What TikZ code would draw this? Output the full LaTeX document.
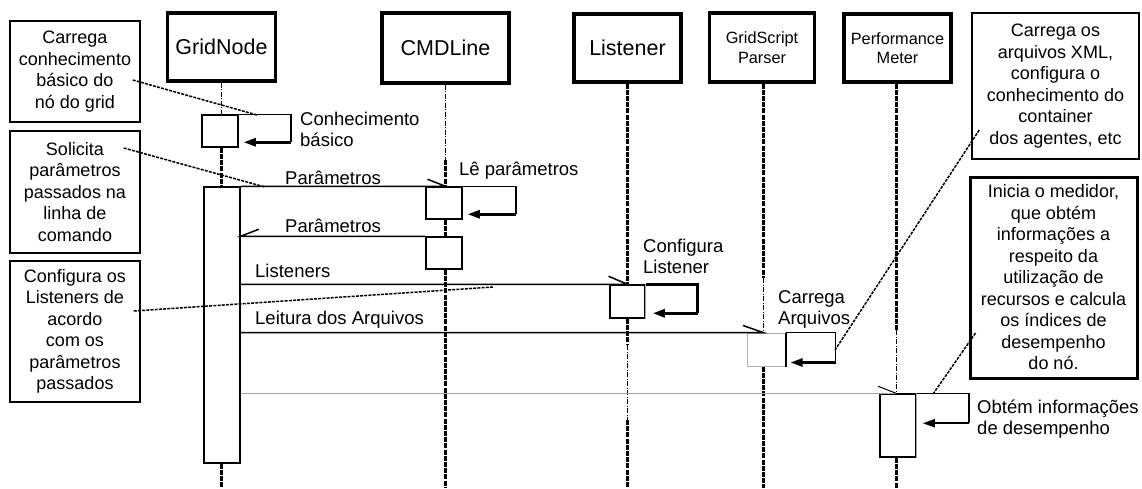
\documentclass[tikz,border=0pt]{standalone}
\usepackage{fontspec}
\setmainfont{Liberation Sans}
\usetikzlibrary{arrows.meta}
\begin{document}
\begin{tikzpicture}[x=1pt,y=-1pt,
 hdr/.style={draw, line width=3.2pt, minimum width=107pt, minimum height=68pt, inner sep=0pt, font=\fontsize{21.5}{24}\selectfont},
 hdrs/.style={hdr, font=\fontsize{16.3}{19.5}\selectfont, align=center},
 note/.style={draw, line width=1.5pt, minimum width=130pt, inner sep=0pt, align=center, font=\fontsize{18}{21.5}\selectfont},
 act/.style={draw, line width=1.5pt, fill=white, minimum width=36pt, inner sep=0pt},
 life/.style={line width=3pt, dash pattern=on 5pt off 1.2pt},
 lifethin/.style={line width=0.9pt, dash pattern=on 5pt off 1.5pt on 1pt off 1.5pt},
 msg/.style={line width=1.5pt},
 loopl/.style={line width=1.5pt},
 ret/.style={line width=2.5pt, -{Triangle[length=12pt,width=8pt]}},
 lbl/.style={inner sep=0pt, anchor=west, align=left, font=\fontsize{18.5}{21}\selectfont},
 conn/.style={line width=1.5pt, dash pattern=on 3pt off 1.2pt}
]
\useasboundingbox (0,0) rectangle (1142,488);

% headers
\node[hdr, minimum width=108pt] (gn) at (221.5,47) {GridNode};
\node[hdr, minimum width=127pt, minimum height=70pt] (cl) at (445.5,48) {CMDLine};
\node[hdr] (ls) at (627.5,48) {Listener};
\node[hdrs, minimum width=105pt, minimum height=69pt] (gs) at (762,47.5) {GridScript\\Parser};
\node[hdrs] (pm) at (897.5,48) {Performance\\Meter};

% activation boxes
\node[act, minimum height=32pt] (ga) at (220,131) {};
\node[act, minimum height=276pt] (gb) at (222,325) {};
\node[act, minimum height=32pt] (c1) at (444,203) {};
\node[act, minimum height=32pt] (c2) at (444,253) {};
\node[act, minimum width=35pt, minimum height=33pt] (l1) at (627.5,301.5) {};
\node[act, draw=black!30, line width=1pt, minimum width=38pt, minimum height=33pt] (p1) at (766,349.5) {};
\node[act, minimum height=63pt] (m1) at (898,425.5) {};
\draw[line width=1pt, black!35] (l1.north east) -- (l1.south east);
\draw[line width=1pt, black!35] (m1.north east) -- (m1.south east);
\draw[line width=2pt] (p1.north east) -- (p1.south east);

% lifelines
\draw[lifethin] (gn.south) -- (gn.south |- ga.north);
\draw[life] (gn.south |- ga.south) -- (gn.south |- gb.north);
\draw[life] (gn.south |- gb.south) -- (gn.south |- 0,488);
\draw[lifethin] (cl.south) -- (cl.south |- 0,160) coordinate (cla);
\draw[life] (cla) -- (cl.south |- c1.north);
\draw[life] (cl.south |- c1.south) -- (cl.south |- c2.north);
\draw[life] (cl.south |- c2.south) -- (cl.south |- 0,488);
\draw[life] (ls.south) -- (ls.south |- l1.north);
\draw[life] (ls.south |- l1.south) -- (ls.south |- 0,345) coordinate (lsa);
\draw[lifethin] (lsa) -- (ls.south |- 0,420) coordinate (lsb);
\draw[life] (lsb) -- (ls.south |- 0,488);
\draw[life] ([xshift=1pt]gs.south) -- ([xshift=1pt]gs.south |- 0,278) coordinate (gsa);
\draw[lifethin] (gsa) -- ([xshift=1pt]gs.south |- p1.north);
\draw[life] ([xshift=1pt]gs.south |- p1.south) -- ([xshift=1pt]gs.south |- 0,488);
\draw[life] ([xshift=-1.5pt]pm.south) -- ([xshift=-1.5pt]pm.south |- 0,330) coordinate (pma);
\draw[lifethin] (pma) -- ([xshift=-1.5pt]pm.south |- m1.north);
\draw[life] ([xshift=-1.5pt]pm.south |- m1.south) -- ([xshift=-1.5pt]pm.south |- 0,488);

% messages
\draw[msg] (gb.north east) -- (cl.south |- gb.north) -- ++(-18,-7);
\draw[msg] (c2.north west) -- (gb.east |- c2.north) -- ++(18,-7);
\draw[msg] (gb.east |- l1.north) -- (ls.south |- l1.north) -- ++(-19,-8);
\draw[msg] (gb.east |- p1.north) -- ([xshift=1pt]gs.south |- p1.north) -- ++(-20,-7);
\draw[line width=1pt, black!35] (gb.east |- m1.north) -- ([xshift=-1.5pt]pm.south |- m1.north);
\draw[line width=1pt] ([xshift=-1.5pt]pm.south |- m1.north) -- ++(-18,-7);

% self loops
\draw[loopl] (ga.north east) -- ++(52,0) -- ++(0,28) coordinate (r1);
\draw[ret] (r1) -- ([xshift=5pt]ga.east |- r1);
\draw[loopl] (c1.north east) -- ++(53,0) -- ++(0,28) coordinate (r2);
\draw[ret] (r2) -- ([xshift=5pt]c1.east |- r2);
\draw[line width=2.8pt] (l1.north east) -- ++(52,0) -- ++(0,29) coordinate (r3);
\draw[ret, line width=2.8pt] (r3) -- ([xshift=7pt]l1.east |- r3);
\draw[loopl] (p1.north east) -- ++(50,0) -- ++(0,30) coordinate (r4);
\draw[ret] (r4) -- ([xshift=5pt]p1.east |- r4);
\draw[loopl] (m1.north east) -- ++(52,0);
\draw[line width=2.5pt] ([xshift=52pt]m1.north east) -- ++(0,30) coordinate (r5);
\draw[ret, line width=1.8pt] (r5) -- ([xshift=6pt]m1.east |- r5);

% labels
\node[lbl] (t1) at (300,129) {Conhecimento\\básico};
\node[lbl] (t2) at (459,171) {Lê parâmetros};
\node[lbl] (t3) at (285,177.5) {Parâmetros};
\node[lbl] (t4) at (285,225.5) {Parâmetros};
\node[lbl] (t5) at (255,270.5) {Listeners};
\node[lbl] (t6) at (255,320) {Leitura dos Arquivos};
\node[lbl] (t7) at (643,256.5) {Configura\\Listener};
\node[lbl] (t8) at (778,309) {Carrega\\Arquivos};
\node[lbl] (t9) at (977,419) {Obtém informações\\de desempenho};

% notes
\node[note, minimum height=101pt] (n1) at (75,71.5) {Carrega\\conhecimento\\básico do\\nó do grid};
\node[note, minimum height=122pt] (n2) at (75,192) {Solicita\\parâmetros\\passados na\\linha de\\comando};
\node[note, minimum height=141pt] (n3) at (75,331.5) {Configura os\\Listeners de\\acordo\\com os\\parâmetros\\passados};
\node[note, minimum width=167pt, minimum height=146pt] (n4) at (1055.5,86) {Carrega os\\arquivos XML,\\configura o\\conhecimento do\\container\\dos agentes, etc};
\node[note, line width=3pt, minimum width=167pt, minimum height=201pt] (n5) at (1053.5,277.5) {Inicia o medidor,\\que obtém\\informações a\\respeito da\\utilização de\\recursos e calcula\\os índices de\\desempenho\\do nó.};

% note connectors
\coordinate (e1) at (257,115);
\coordinate (e2) at (265,187);
\coordinate (e3) at (493,287);
\coordinate (e4) at (835,350);
\coordinate (e5) at (933,394);
\draw[conn] ([xshift=-8pt,yshift=-8.5pt]n1.east) -- (e1);
\draw[conn] ([xshift=-17pt,yshift=44pt]n2.east) -- (e2);
\draw[conn] ([xshift=-7pt,yshift=20.5pt]n3.east) -- (e3);
\draw[conn] ([xshift=8pt,yshift=-44pt]n4.west) -- (e4);
\draw[conn] ([xshift=7pt,yshift=-55.5pt]n5.west) -- (e5);
\end{tikzpicture}
\end{document}
